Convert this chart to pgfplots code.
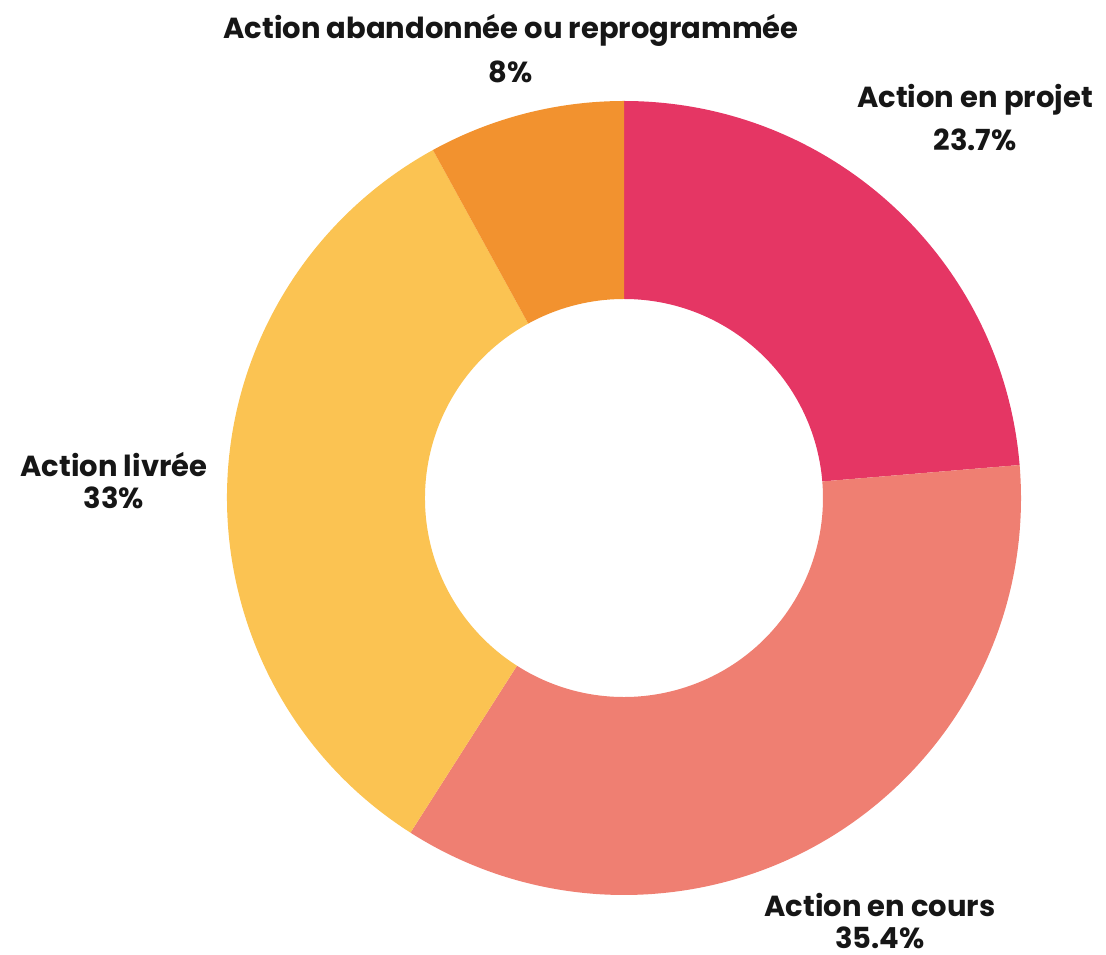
\documentclass[border=0pt]{standalone}
\usepackage{pgfplots}
\usepackage{pgfplotstable}
\pgfplotsset{compat=1.18}
\usepackage{fontspec}
\setmainfont{Poppins}[Ligatures=NoCommon]
\definecolor{cProjet}{HTML}{E53664}
\definecolor{cCours}{HTML}{EF7F72}
\definecolor{cLivree}{HTML}{FBC352}
\definecolor{cAband}{HTML}{F2922F}
\definecolor{txt}{HTML}{161616}
\pgfplotstableread{
label value
projet 23.7
cours 35.4
livree 33
aband 8
}\donutdata
% cumulative angles (clockwise from the top)
\pgfplotstablegetelem{0}{value}\of\donutdata\let\vA\pgfplotsretval
\pgfplotstablegetelem{1}{value}\of\donutdata\let\vB\pgfplotsretval
\pgfplotstablegetelem{2}{value}\of\donutdata\let\vC\pgfplotsretval
\pgfplotstablegetelem{3}{value}\of\donutdata\let\vD\pgfplotsretval
\pgfmathsetmacro\tot{\vA+\vB+\vC+\vD}
\pgfmathsetmacro\aO{90}
\pgfmathsetmacro\aA{\aO-360*\vA/\tot}
\pgfmathsetmacro\aB{\aA-360*\vB/\tot}
\pgfmathsetmacro\aC{\aB-360*\vC/\tot}
\pgfmathsetmacro\aD{\aC-360*\vD/\tot}
\newcommand\cx{624}
\newcommand\cy{456}
\newcommand\Ro{397}
\newcommand\Ri{199}
\newcommand\donutwedge[3]{%
  \fill[#3] (axis cs:{\cx+\Ro*cos(#1)},{\cy+\Ro*sin(#1)})
    arc[start angle=#1, end angle=#2, radius=\Ro pt]
    -- (axis cs:{\cx+\Ri*cos(#2)},{\cy+\Ri*sin(#2)})
    arc[start angle=#2, end angle=#1, radius=\Ri pt] -- cycle;}
\begin{document}
\begin{tikzpicture}
\begin{axis}[
  scale only axis, width=1106pt, height=954pt,
  xmin=0, xmax=1106, ymin=0, ymax=954,
  hide axis, clip=false,
]
\donutwedge{\aO}{\aA}{cProjet}
\donutwedge{\aA}{\aB}{cCours}
\donutwedge{\aB}{\aC}{cLivree}
\donutwedge{\aC}{\aD}{cAband}
\tikzset{lab/.style={anchor=base, inner sep=0pt, text=txt, font=\fontsize{29}{34}\selectfont\bfseries}}
\node[lab] at (axis cs:975,{954-108}) {Action en projet};
\node[lab] at (axis cs:975,{954-151}) {23.7\%};
\node[lab] at (axis cs:880,{954-916}) {Action en cours};
\node[lab] at (axis cs:880,{954-948}) {35.4\%};
\node[lab] at (axis cs:114,{954-477}) {Action livrée};
\node[lab] at (axis cs:114,{954-509}) {33\%};
\node[lab] at (axis cs:511,{954-39}) {Action abandonnée ou reprogrammée};
\node[lab] at (axis cs:511,{954-83}) {8\%};
\end{axis}
\pgfresetboundingbox
\path (current axis.south west) rectangle (current axis.north east);
\end{tikzpicture}
\end{document}
